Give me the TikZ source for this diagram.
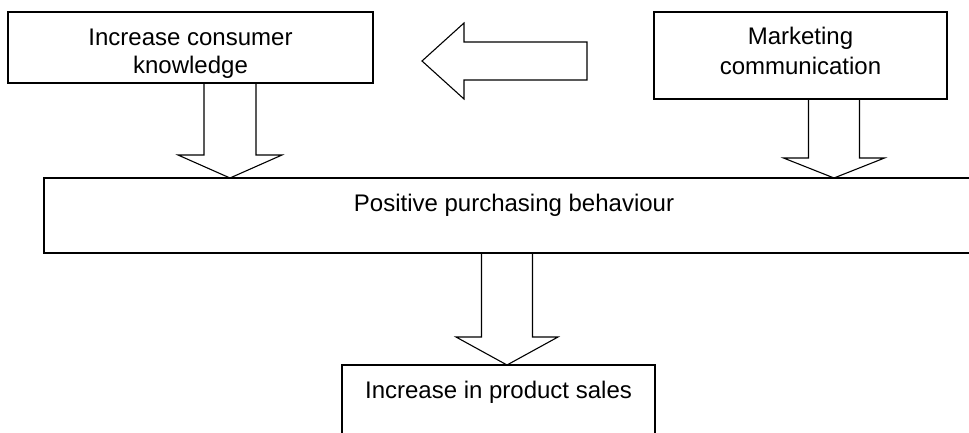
\documentclass[tikz,border=0pt]{standalone}
\usepackage{fontspec}
\setmainfont{Liberation Sans}
\usetikzlibrary{calc}

\tikzset{
  box/.style={draw, line width=1.3pt, align=center, inner sep=0pt, outer sep=0pt,
    font=\fontsize{24}{28}\selectfont},
  fat/.style={draw, line width=1.1pt, line join=miter},
}

% hollow block arrow pointing down: tail, tip, half shaft, half head, head length
\newcommand{\fatdown}[5]{%
  \draw[fat] let \p1=(#1), \p2=(#2) in
    (\x2-#3,\y1) -- (\x2-#3,\y2+#5) -- (\x2-#4,\y2+#5) -- (\x2,\y2)
    -- (\x2+#4,\y2+#5) -- (\x2+#3,\y2+#5) -- (\x2+#3,\y1);}
% same, pointing left and closed at the tail
\newcommand{\fatleft}[5]{%
  \draw[fat] let \p1=(#1), \p2=(#2) in
    (\x1,\y2+#3) -- (\x2+#5,\y2+#3) -- (\x2+#5,\y2+#4) -- (\x2,\y2)
    -- (\x2+#5,\y2-#4) -- (\x2+#5,\y2-#3) -- (\x1,\y2-#3) -- cycle;}

\begin{document}
\begin{tikzpicture}[x=1pt,y=-1pt]
\clip (0,0) rectangle (969,433);

\node[box, minimum width=365pt, minimum height=71pt, text height=58pt, text depth=5pt] (know) at (190.5,47.5) {Increase consumer\\knowledge};
\node[box, minimum width=293pt, minimum height=87pt, font=\fontsize{24}{30}\selectfont, text height=44pt, text depth=5pt] (mkt) at (800.5,55.5) {Marketing\\communication};
\node[box, minimum width=940pt, text height=33.5pt, text depth=41.5pt, anchor=north] (behav) at (514,178) {Positive purchasing behaviour};
\node[box, minimum width=313pt, text height=33pt, text depth=85pt, anchor=north] (sales) at (498.5,365) {Increase in product sales};

% block arrows
\coordinate (tail) at (587,61);
\coordinate (head) at (422,61);
\fatleft{tail}{head}{19pt}{38pt}{42pt}

\coordinate (kx) at (230,0);
\coordinate (mx) at (834,0);
\coordinate (sx) at (507,0);
\fatdown{know.south -| kx}{behav.north -| kx}{26pt}{52pt}{23pt}
\fatdown{mkt.south -| mx}{behav.north -| mx}{25.5pt}{50.5pt}{20pt}
\fatdown{behav.south -| sx}{sales.north -| sx}{25.5pt}{51pt}{28pt}
\end{tikzpicture}
\end{document}
